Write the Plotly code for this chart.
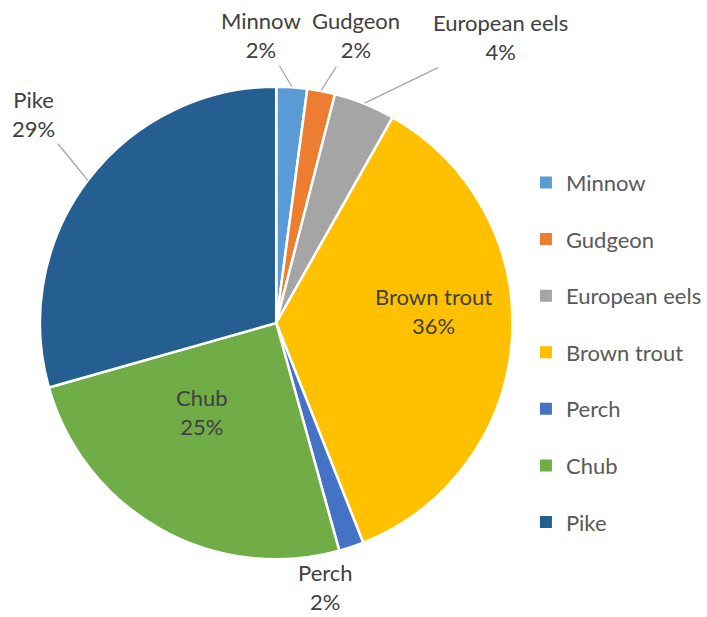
import math
import plotly.graph_objects as go

categories = ["Minnow", "Gudgeon", "European eels", "Brown trout", "Perch", "Chub", "Pike"]
values = [2.1, 1.9, 4.2, 35.8, 1.7, 24.9, 29.4]
colors = ["#5B9BD5", "#ED7D31", "#A5A5A5", "#FFC000", "#4472C4", "#70AD47", "#255E91"]

# label placement style: pixel offset of each label from its slice's outer mid-point,
# and whether a leader line is drawn
label_offsets = {
    "Minnow": (-31, -52, True),
    "Gudgeon": (35, -55, True),
    "European eels": (136, -66, True),
    "Brown trout": (-78, -28, False),
    "Perch": (-26, 39, False),
    "Chub": (42, -118, False),
    "Pike": (-54, -66, True),
}

W, H = 707, 617
CX, CY, R = 277, 323, 237
FONT = "Lato, 'Open Sans', sans-serif"
TEXT_COLOR = "#404040"
FS = 22

fig = go.Figure()
fig.add_trace(go.Pie(
    labels=categories,
    values=values,
    sort=False,
    direction="clockwise",
    rotation=0,
    marker=dict(colors=colors, line=dict(color="white", width=2.5)),
    textinfo="none",
    showlegend=False,
    domain=dict(x=[(CX - R) / W, (CX + R) / W], y=[(H - CY - R) / H, (H - CY + R) / H]),
    hoverinfo="label+percent",
))

# data labels, anchored at each slice's mid-angle edge point
total = sum(values)
cum = 0.0
for name, v in zip(categories, values):
    mid = (cum + v / 2) / total * 2 * math.pi
    cum += v
    px = CX + R * math.sin(mid)
    py = CY - R * math.cos(mid)
    ax, ay, leader = label_offsets[name]
    pct = round(v / total * 100)
    fig.add_annotation(
        x=px / W, y=1 - py / H, xref="paper", yref="paper",
        text=f"{name}<br>{pct}%",
        showarrow=True, ax=ax, ay=ay,
        arrowhead=0, arrowwidth=1.3, standoff=0, startstandoff=2,
        arrowcolor="#A6A6A6" if leader else "rgba(0,0,0,0)",
        font=dict(family=FONT, size=FS, color=TEXT_COLOR),
        align="center",
    )

# Legend entries (one per category)
for name, col in zip(categories, colors):
    fig.add_trace(go.Scatter(
        x=[None], y=[None], mode="markers", name=name, legendgroup=name,
        marker=dict(symbol="square", size=9, color=col),
        showlegend=True, hoverinfo="skip",
    ))

fig.update_layout(
    width=W, height=H,
    margin=dict(l=0, r=0, t=0, b=0),
    paper_bgcolor="white", plot_bgcolor="white",
    xaxis=dict(visible=False), yaxis=dict(visible=False),
    legend=dict(
        x=0.746, y=0.738, xanchor="left", yanchor="top",
        font=dict(family=FONT, size=FS, color="#595959"),
        tracegroupgap=25, itemsizing="constant",
        bgcolor="rgba(0,0,0,0)",
    ),
)

fig.write_html("out.html")
